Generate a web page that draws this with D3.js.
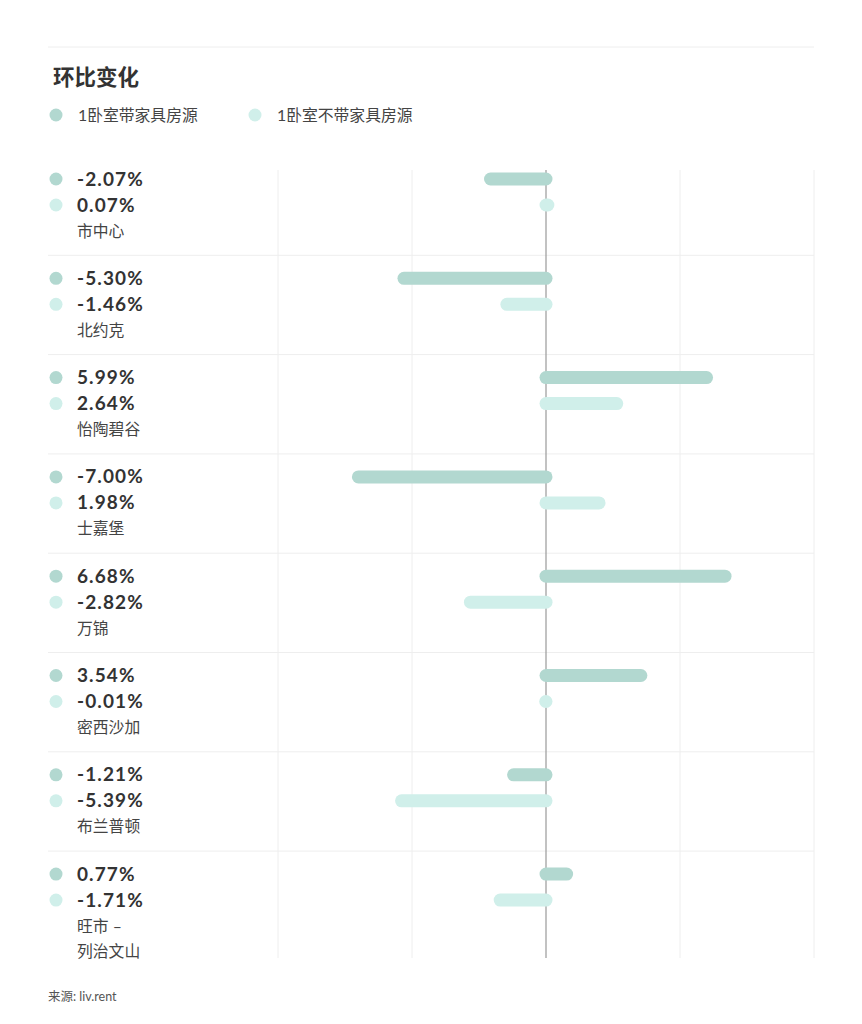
<!DOCTYPE html>
<html><head><meta charset="utf-8">
<script src="https://cdn.jsdelivr.net/npm/d3@7"></script>
<style>
body{margin:0;background:#fff;}
text{font-family:Lato,"Noto Sans CJK SC",sans-serif;}
</style></head>
<body>
<svg id="c" width="862" height="1024"></svg>
<script>
const regions = ["市中心","北约克","怡陶碧谷","士嘉堡","万锦","密西沙加","布兰普顿","旺市 –\n列治文山"];
const furnished = [-2.07,-5.30,5.99,-7.00,6.68,3.54,-1.21,0.77];
const unfurnished = [0.07,-1.46,2.64,1.98,-2.82,-0.01,-5.39,-1.71];
const seriesNames = ["1卧室带家具房源","1卧室不带家具房源"];
const colors = ["#b2d8d0","#d0efea"];
const gridTicks = [-10,-5,0,5,10];
const title = "环比变化";
const source = "来源: liv.rent";

const svg = d3.select("#c");
const x = d3.scaleLinear().domain([-10,10]).range([278,814]);
const y = d3.scaleBand().domain(regions).range([156,950.4]);

svg.append("line").attr("x1",48).attr("x2",814).attr("y1",47).attr("y2",47).attr("stroke","#eeeeee");
svg.append("text").attr("x",53).attr("y",85).attr("font-size",21.5).attr("font-weight",700).attr("fill","#333").text(title);

const lx = [56,255];
seriesNames.forEach((n,i)=>{
  svg.append("circle").attr("cx",lx[i]).attr("cy",115).attr("r",6.5).attr("fill",colors[i]);
  svg.append("text").attr("x",lx[i]+22).attr("y",120.5).attr("font-size",15.8).attr("fill","#444").text(n);
});

svg.append("g").selectAll("line").data(gridTicks.filter(d=>d!==0)).join("line")
  .attr("x1",d=>x(d)).attr("x2",d=>x(d)).attr("y1",170).attr("y2",958)
  .attr("stroke","#eeeeee");
svg.append("g").selectAll("line").data(regions.slice(1)).join("line")
  .attr("x1",48).attr("x2",814).attr("y1",d=>y(d)).attr("y2",d=>y(d))
  .attr("stroke","#eeeeee");

svg.append("line").attr("x1",x(0)).attr("x2",x(0)).attr("y1",170).attr("y2",958).attr("stroke","#999").attr("stroke-width",1.2);

const fmt = v => v.toFixed(2)+"%";
const series = [furnished, unfurnished];
const offs = [23,49];
regions.forEach((r,i)=>{
  const top = y(r);
  series.forEach((s,k)=>{
    const cy = top+offs[k];
    svg.append("circle").attr("cx",56).attr("cy",cy).attr("r",6.5).attr("fill",colors[k]);
    svg.append("text").attr("x",77).attr("y",cy+6.5).attr("font-size",19).attr("font-weight",700)
      .attr("letter-spacing",1.1).attr("fill","#333").text(fmt(s[i]));
    svg.append("line").attr("x1",x(0)).attr("x2",x(s[i])).attr("y1",cy).attr("y2",cy)
      .attr("stroke",colors[k]).attr("stroke-width",13).attr("stroke-linecap","round");
  });
  const lines = r.split("\n");
  lines.forEach((t,j)=>{
    svg.append("text").attr("x",77).attr("y",top+80.5+j*25).attr("font-size",15.8).attr("fill","#444").text(t);
  });
});

svg.append("text").attr("x",48).attr("y",1001).attr("font-size",12.5).attr("fill","#555").text(source);
</script>
</body></html>
